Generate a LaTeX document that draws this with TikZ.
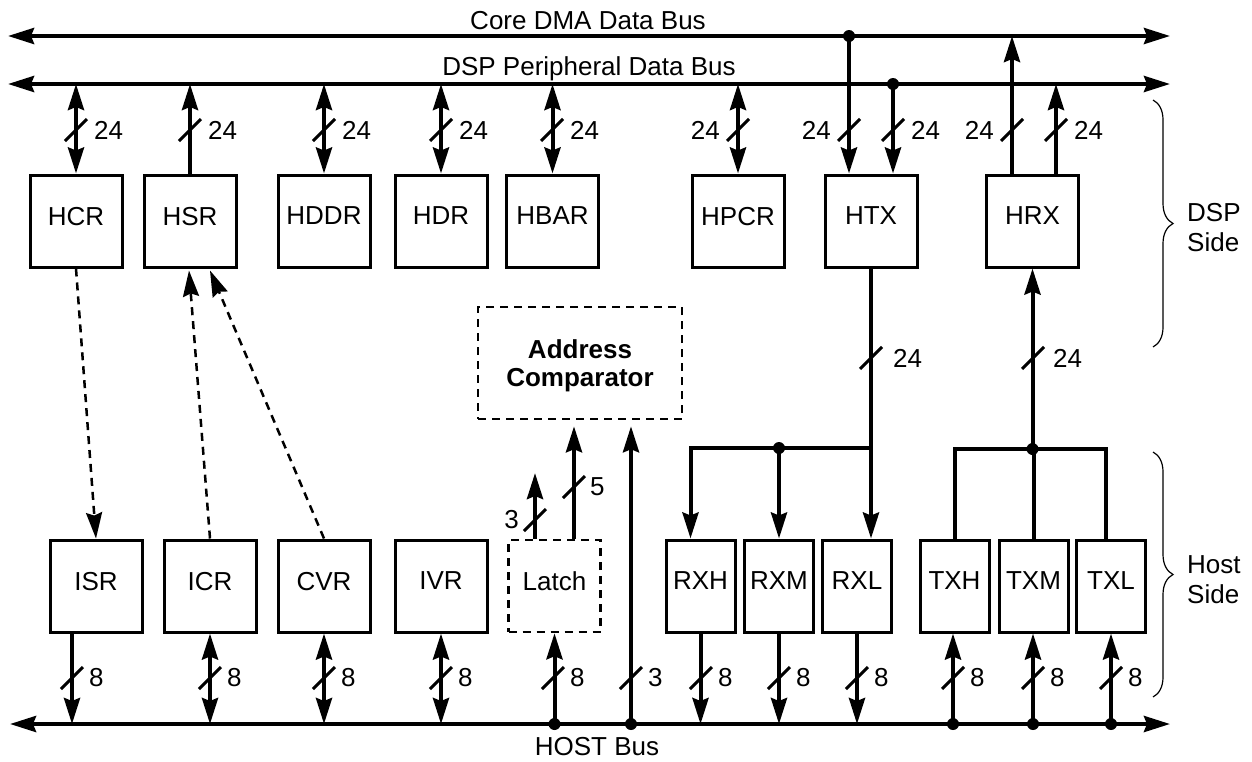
\documentclass[tikz,border=0pt]{standalone}
\usepackage{fontspec}
\setmainfont{Liberation Sans}
\usetikzlibrary{arrows.meta,decorations.pathreplacing,calc}
\begin{document}
\begin{tikzpicture}[x=1pt,y=-1pt,
  font=\fontsize{26}{30}\selectfont,
  >={Stealth[length=26pt,width=16pt,inset=3pt]},
  wire/.style={line width=4pt},
  dashw/.style={line width=2.5pt,dash pattern=on 8pt off 6pt},
  regbox/.style={draw,line width=3pt,minimum width=92pt,minimum height=92pt,inner sep=0pt,text depth=10pt},
  narrowbox/.style={regbox,minimum width=69pt},
  dashbox/.style={regbox,line width=2.5pt,dash pattern=on 8pt off 6pt},
  lbl/.style={inner sep=0pt},
  sidebrace/.style={line width=1.2pt,decorate,decoration={brace,amplitude=20pt}},
  dot/.style={fill},
  slash/.pic={\draw[line width=3pt] (-11,11) -- (11,-11);}
]
\useasboundingbox (0,0) rectangle (1252,761);

% ---------- buses ----------
\coordinate (dmaL) at (8,36);  \coordinate (dmaR) at (1170,36);
\coordinate (dspL) at (8,84);  \coordinate (dspR) at (1170,84);
\coordinate (hostL) at (10,724); \coordinate (hostR) at (1170,724);
\draw[wire,<->] (dmaL) -- (dmaR);
\draw[wire,<->] (dspL) -- (dspR);
\draw[wire,<->] (hostL) -- (hostR);
\node[anchor=base] (dmaT) at (588,29) {Core DMA Data Bus};
\node[anchor=base] (dspT) at (589,75) {DSP Peripheral Data Bus};
\node[anchor=base] (hostT) at (597,755) {HOST Bus};

% ---------- DSP side registers ----------
\node[regbox] (HCR)  at (76,221)  {HCR};
\node[regbox] (HSR)  at (190,221) {HSR};
\node[regbox] (HDDR) at (324,221) {HDDR};
\node[regbox] (HDR)  at (441,221) {HDR};
\node[regbox] (HBAR) at (552.5,221) {HBAR};
\node[regbox] (HPCR) at (738,221) {HPCR};
\node[regbox] (HTX)  at (871,221) {HTX};
\node[regbox] (HRX)  at (1032.5,221) {HRX};

% ---------- Host side registers ----------
\node[regbox] (ISR) at (96,586)  {ISR};
\node[regbox] (ICR) at (210,586) {ICR};
\node[regbox] (CVR) at (324,586) {CVR};
\node[regbox] (IVR) at (441,586) {IVR};
\node[dashbox] (Latch) at (554.5,586) {Latch};
\node[narrowbox] (RXH) at (700.5,586) {RXH};
\node[narrowbox] (RXM) at (779,586) {RXM};
\node[narrowbox] (RXL) at (857,586) {RXL};
\node[narrowbox] (TXH) at (954.5,586) {TXH};
\node[narrowbox] (TXM) at (1033.5,586) {TXM};
\node[narrowbox] (TXL) at (1111,586) {TXL};

\node[dashbox,minimum width=204pt,minimum height=112pt,align=center,text depth=0pt,
      font=\fontsize{26}{28}\selectfont\bfseries] (AC) at (580,363) {Address\\Comparator};

% ---------- DSP bus connections ----------
\draw[wire,<->] (HCR.north |- dspL) -- (HCR.north);
\draw[wire,->] (HSR.north) -- (HSR.north |- dspL);
\draw[wire,<->] (HDDR.north |- dspL) -- (HDDR.north);
\draw[wire,<->] (HDR.north |- dspL) -- (HDR.north);
\draw[wire,<->] (HBAR.north |- dspL) -- (HBAR.north);
\draw[wire,<->] (HPCR.north |- dspL) -- (HPCR.north);

\coordinate (htxa) at ($(HTX.north)+(-22,0)$);
\coordinate (htxb) at ($(HTX.north)+(22,0)$);
\coordinate (hrxa) at ($(HRX.north)+(-20.5,0)$);
\coordinate (hrxb) at ($(HRX.north)+(23.5,0)$);
\draw[wire,->] (htxa |- dmaL) -- (htxa);
\draw[wire,->] (htxb |- dspL) -- (htxb);
\fill[dot] (htxa |- dmaL) circle (6);
\fill[dot] (htxb |- dspL) circle (6);
\draw[wire,->] (hrxa) -- (hrxa |- dmaL);
\draw[wire,->] (hrxb) -- (hrxb |- dspL);

\foreach \x in {76,190,324,441,552,738,849,893,1012,1056}
  \pic at (\x,130) {slash};
\node[lbl,anchor=west] (w1) at (94,130) {24};
\node[lbl,anchor=west] (w2) at (208,130) {24};
\node[lbl,anchor=west] (w3) at (342,130) {24};
\node[lbl,anchor=west] (w4) at (459,130) {24};
\node[lbl,anchor=west] (w5) at (570,130) {24};
\node[lbl,anchor=east] (w6) at (720,130) {24};
\node[lbl,anchor=east] (w7) at (831,130) {24};
\node[lbl,anchor=west] (w8) at (911,130) {24};
\node[lbl,anchor=east] (w9) at (994,130) {24};
\node[lbl,anchor=west] (w10) at (1074,130) {24};

% ---------- HTX -> RX registers ----------
\coordinate (rj) at (871,448);
\draw[wire,->] (HTX.south) -- (HTX.south |- RXL.north);
\draw[wire,->,line join=miter] (rj) -| ($(RXH.north)+(-10,0)$);
\draw[wire,->] (rj -| RXM.north) -- (RXM.north);
\fill[dot] (rj -| RXM.north) circle (6);
\pic at (871,358) {slash};
\node[lbl,anchor=west] (w11) at (893,358) {24};

% ---------- TX registers -> HRX ----------
\coordinate (tj) at (1033,449);
\draw[wire,->] (HRX.south |- tj) -- (HRX.south);
\draw[wire,line join=miter] (TXH.north) |- (tj) -| ($(TXL.north)+(-5,0)$);
\draw[wire] (TXM.north) -- (TXM.north |- tj);
\fill[dot] (HRX.south |- tj) circle (6);
\pic at (1033,358) {slash};
\node[lbl,anchor=west] (w12) at (1053,358) {24};

% ---------- dashed status links ----------
\draw[dashw,->] (HCR.south) -- (ISR.north);
\draw[dashw,->] (ICR.north) -- ($(HSR.south)+(-1,2)$);
\draw[dashw,->] (CVR.north) -- ($(HSR.south)+(20,2)$);

% ---------- latch and comparator ----------
\coordinate (l3) at (535,473);
\coordinate (l5) at (574,540);
\coordinate (h3) at (631,724);
\draw[wire,->] (l3 |- Latch.north) -- (l3);
\draw[wire,->] (l5 |- Latch.north) -- ($(l5 |- AC.south)+(0,6)$);
\draw[wire,->] (h3) -- ($(h3 |- AC.south)+(0,6)$);
\fill[dot] (h3) circle (6);
\pic at (535,520) {slash};
\node[lbl,anchor=east] (w13) at (519,520) {3};
\pic at (574,487) {slash};
\node[lbl,anchor=west] (w14) at (590,487) {5};
\pic at (631,678) {slash};
\node[lbl,anchor=west] (w15) at (648,678) {3};

% ---------- host bus connections ----------
\coordinate (isrx) at ($(ISR.south)+(-24,0)$);
\draw[wire,->] (isrx) -- (isrx |- hostL);
\draw[wire,<->] (ICR.south |- hostL) -- (ICR.south);
\draw[wire,<->] (CVR.south |- hostL) -- (CVR.south);
\draw[wire,<->] (IVR.south |- hostL) -- (IVR.south);
\draw[wire,->] (Latch.south |- hostL) -- (Latch.south);
\fill[dot] (Latch.south |- hostL) circle (6);
\draw[wire,->] (RXH.south) -- (RXH.south |- hostL);
\draw[wire,->] (RXM.south) -- (RXM.south |- hostL);
\draw[wire,->] (RXL.south) -- (RXL.south |- hostL);
\coordinate (txhx) at ($(TXH.south)+(-1.5,0)$);
\coordinate (txmx) at ($(TXM.south)+(-0.5,0)$);
\draw[wire,->] (txhx |- hostL) -- (txhx);
\draw[wire,->] (txmx |- hostL) -- (txmx);
\draw[wire,->] (TXL.south |- hostL) -- (TXL.south);
\fill[dot] (txhx |- hostL) circle (6);
\fill[dot] (txmx |- hostL) circle (6);
\fill[dot] (TXL.south |- hostL) circle (6);

\foreach \x in {72,210,324,441,553,701,779,857,953,1033,1111}
  \pic at (\x,678) {slash};
\node[lbl,anchor=west] (b1) at (89,678) {8};
\node[lbl,anchor=west] (b2) at (227,678) {8};
\node[lbl,anchor=west] (b3) at (341,678) {8};
\node[lbl,anchor=west] (b4) at (458,678) {8};
\node[lbl,anchor=west] (b5) at (570,678) {8};
\node[lbl,anchor=west] (b6) at (718,678) {8};
\node[lbl,anchor=west] (b7) at (796,678) {8};
\node[lbl,anchor=west] (b8) at (874,678) {8};
\node[lbl,anchor=west] (b9) at (970,678) {8};
\node[lbl,anchor=west] (b10) at (1050,678) {8};
\node[lbl,anchor=west] (b11) at (1128,678) {8};

% ---------- side braces ----------
\coordinate (bt1) at (1153,100); \coordinate (bb1) at (1153,347);
\coordinate (bt2) at (1153,452); \coordinate (bb2) at (1153,697);
\draw[sidebrace] (bt1) -- (bb1);
\draw[sidebrace] (bt2) -- (bb2);
\node[anchor=west,align=left,inner sep=0pt] (dspside) at (1187,228) {DSP\\Side};
\node[anchor=west,align=left,inner sep=0pt] (hostside) at (1187,580) {Host\\Side};
\end{tikzpicture}
\end{document}
